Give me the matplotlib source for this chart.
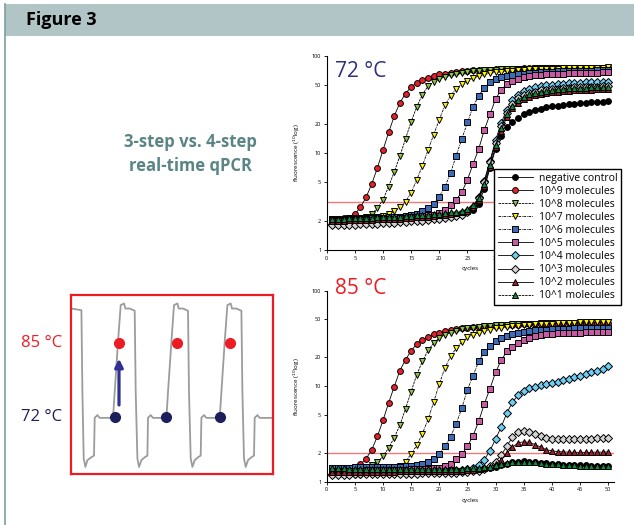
import numpy as np
import matplotlib
matplotlib.use('Agg')
import matplotlib.pyplot as plt
from matplotlib.ticker import FixedLocator, FixedFormatter
from matplotlib.patches import Rectangle
from matplotlib.lines import Line2D

plt.rcParams['font.family'] = ['Open Sans', 'DejaVu Sans']

# ---- data ----
cycles = list(range(1, 51))
series_labels = ['negative control', '10^9 molecules', '10^8 molecules', '10^7 molecules',
                 '10^6 molecules', '10^5 molecules', '10^4 molecules', '10^3 molecules',
                 '10^2 molecules', '10^1 molecules']

# 72 °C (3-step) fluorescence per cycle
neg_72 = [2.05, 2.05, 2.06, 2.07, 2.08, 2.09, 2.1, 2.1, 2.11, 2.12,
          2.13, 2.14, 2.15, 2.16, 2.17, 2.18, 2.2, 2.21, 2.23, 2.25,
          2.27, 2.3, 2.33, 2.38, 2.45, 2.6, 3.0, 4.3, 7.0, 11.0,
          15.0, 18.5, 21.0, 23.0, 25.0, 26.5, 27.7, 28.7, 29.5, 30.2,
          30.8, 31.3, 31.8, 32.2, 32.6, 33.0, 33.3, 33.6, 33.8, 34.0]
e9_72 = [2.1, 2.1, 2.12, 2.15, 2.35, 2.75, 3.5, 4.8, 7.0, 10.7,
         16.3, 24.0, 33.0, 41.0, 48.0, 53.0, 57.0, 60.0, 62.5, 64.5,
         66.0, 67.5, 68.5, 69.5, 70.3, 71.0, 71.5, 72.0, 72.5, 73.0,
         73.3, 73.6, 73.9, 74.2, 74.4, 74.6, 74.8, 75.0, 75.1, 75.2,
         75.3, 75.4, 75.5, 75.6, 75.7, 75.8, 75.8, 75.9, 75.9, 76.0]
e8_72 = [2.1, 2.1, 2.11, 2.12, 2.13, 2.15, 2.2, 2.35, 2.7, 3.3,
         4.5, 6.4, 9.3, 14.0, 21.0, 30.0, 40.0, 49.0, 54.0, 58.0,
         61.0, 63.5, 65.5, 67.0, 68.3, 69.3, 70.2, 71.0, 71.6, 72.1,
         72.6, 73.0, 73.4, 73.7, 74.0, 74.3, 74.5, 74.7, 74.9, 75.0,
         75.1, 75.2, 75.3, 75.4, 75.5, 75.6, 75.6, 75.7, 75.7, 75.8]
e7_72 = [2.1, 2.1, 2.11, 2.12, 2.13, 2.14, 2.15, 2.17, 2.2, 2.25,
         2.35, 2.5, 2.75, 3.15, 3.9, 5.3, 7.4, 10.7, 15.5, 22.0,
         31.0, 39.0, 46.0, 51.0, 55.5, 59.0, 62.0, 64.5, 66.3, 67.8,
         69.0, 70.0, 70.8, 71.5, 72.1, 72.6, 73.0, 73.4, 73.7, 74.0,
         74.3, 74.5, 74.8, 75.0, 75.2, 75.4, 75.6, 75.8, 76.0, 76.2]
e6_72 = [2.05, 2.05, 2.06, 2.07, 2.08, 2.09, 2.1, 2.12, 2.13, 2.15,
         2.17, 2.19, 2.21, 2.24, 2.28, 2.35, 2.5, 2.7, 3.0, 3.55,
         4.5, 6.2, 9.4, 13.9, 20.7, 30.0, 39.0, 47.0, 53.5, 57.5,
         60.5, 62.5, 64.0, 65.0, 66.0, 66.8, 67.5, 68.0, 68.5, 69.0,
         69.3, 69.6, 69.9, 70.2, 70.4, 70.6, 70.8, 71.0, 71.1, 71.2]
e5_72 = [2.0, 2.0, 2.01, 2.02, 2.03, 2.04, 2.05, 2.06, 2.07, 2.08,
         2.1, 2.11, 2.13, 2.15, 2.17, 2.2, 2.23, 2.27, 2.32, 2.4,
         2.6, 2.9, 3.3, 3.95, 5.3, 7.7, 11.0, 17.3, 25.0, 36.0,
         45.0, 51.0, 55.5, 58.5, 60.5, 62.0, 63.2, 64.0, 64.7, 65.2,
         65.6, 66.0, 66.3, 66.6, 66.9, 67.1, 67.3, 67.5, 67.7, 67.8]
e4_72 = [1.85, 1.86, 1.87, 1.88, 1.89, 1.9, 1.91, 1.92, 1.93, 1.95,
         1.96, 1.98, 2.0, 2.02, 2.04, 2.06, 2.08, 2.1, 2.13, 2.16,
         2.2, 2.24, 2.3, 2.38, 2.5, 2.8, 3.5, 5.2, 8.3, 13.5,
         20.5, 28.0, 35.0, 40.0, 43.5, 46.0, 47.8, 49.0, 50.0, 50.8,
         51.4, 52.0, 52.5, 52.9, 53.2, 53.5, 53.8, 54.0, 54.2, 54.4]
e3_72 = [1.8, 1.8, 1.81, 1.82, 1.83, 1.84, 1.85, 1.86, 1.87, 1.88,
         1.9, 1.91, 1.93, 1.95, 1.97, 1.99, 2.01, 2.04, 2.07, 2.1,
         2.14, 2.18, 2.24, 2.32, 2.45, 2.75, 3.4, 5.0, 8.0, 12.8,
         19.0, 26.0, 32.0, 36.5, 39.5, 41.5, 43.0, 44.2, 45.0, 45.7,
         46.2, 46.7, 47.1, 47.4, 47.7, 48.0, 48.2, 48.4, 48.6, 48.8]
e2_72 = [2.0, 2.0, 2.01, 2.02, 2.03, 2.04, 2.05, 2.06, 2.07, 2.08,
         2.09, 2.1, 2.11, 2.13, 2.15, 2.17, 2.19, 2.21, 2.24, 2.27,
         2.3, 2.34, 2.38, 2.44, 2.55, 2.8, 3.3, 4.6, 7.2, 11.5,
         17.0, 23.5, 29.0, 33.0, 36.0, 38.0, 39.5, 40.7, 41.6, 42.3,
         42.9, 43.4, 43.8, 44.2, 44.5, 44.8, 45.0, 45.2, 45.4, 45.6]
e1_72 = [2.1, 2.1, 2.11, 2.12, 2.13, 2.14, 2.15, 2.16, 2.17, 2.18,
         2.19, 2.2, 2.21, 2.23, 2.25, 2.27, 2.29, 2.31, 2.34, 2.37,
         2.4, 2.44, 2.48, 2.53, 2.63, 2.9, 3.4, 4.8, 7.6, 12.2,
         18.0, 25.0, 30.5, 35.0, 38.0, 40.2, 41.8, 43.0, 44.0, 44.8,
         45.4, 45.9, 46.3, 46.7, 47.0, 47.3, 47.6, 47.8, 48.0, 48.2]

# 85 °C (4-step) fluorescence per cycle
neg_85 = [1.28, 1.28, 1.28, 1.28, 1.28, 1.28, 1.28, 1.29, 1.29, 1.29,
          1.29, 1.29, 1.3, 1.3, 1.3, 1.3, 1.3, 1.31, 1.31, 1.31,
          1.31, 1.32, 1.32, 1.32, 1.33, 1.34, 1.35, 1.37, 1.4, 1.44,
          1.5, 1.55, 1.59, 1.62, 1.63, 1.62, 1.6, 1.58, 1.56, 1.54,
          1.53, 1.51, 1.5, 1.49, 1.48, 1.48, 1.47, 1.47, 1.47, 1.47]
e9_85 = [1.35, 1.35, 1.36, 1.37, 1.42, 1.53, 1.74, 2.16, 2.98, 4.38,
         6.7, 9.9, 14.6, 18.9, 23.5, 27.7, 30.7, 33.0, 35.0, 36.5,
         37.8, 38.8, 39.6, 40.3, 40.9, 41.4, 41.9, 42.3, 42.7, 43.0,
         43.3, 43.6, 43.9, 44.1, 44.3, 44.5, 44.7, 44.9, 45.0, 45.2,
         45.3, 45.4, 45.5, 45.6, 45.7, 45.8, 45.9, 46.0, 46.1, 46.2]
e8_85 = [1.38, 1.38, 1.39, 1.39, 1.4, 1.41, 1.43, 1.48, 1.59, 1.85,
         2.25, 2.9, 3.9, 5.8, 8.8, 13.2, 18.2, 23.7, 28.3, 32.0,
         34.5, 36.5, 38.0, 39.3, 40.3, 41.1, 41.8, 42.4, 42.9, 43.3,
         43.7, 44.0, 44.3, 44.6, 44.8, 45.0, 45.2, 45.4, 45.6, 45.7,
         45.8, 46.0, 46.1, 46.2, 46.3, 46.4, 46.5, 46.6, 46.7, 46.8]
e7_85 = [1.36, 1.36, 1.37, 1.37, 1.37, 1.38, 1.38, 1.38, 1.39, 1.39,
         1.4, 1.42, 1.47, 1.62, 1.96, 2.4, 3.18, 4.5, 6.8, 10.6,
         15.5, 20.5, 25.0, 29.0, 32.6, 34.7, 36.5, 38.0, 39.2, 40.2,
         41.0, 41.8, 42.4, 43.0, 43.5, 43.9, 44.3, 44.7, 45.0, 45.3,
         45.6, 45.9, 46.1, 46.3, 46.5, 46.7, 46.9, 47.1, 47.3, 47.5]
e6_85 = [1.4, 1.4, 1.4, 1.4, 1.41, 1.41, 1.41, 1.42, 1.42, 1.42,
         1.43, 1.43, 1.44, 1.45, 1.47, 1.5, 1.55, 1.62, 1.74, 1.96,
         2.34, 2.94, 4.05, 5.9, 9.2, 12.9, 18.2, 22.8, 26.1, 29.5,
         31.9, 33.8, 35.3, 36.4, 37.2, 37.9, 38.4, 38.8, 39.1, 39.4,
         39.6, 39.8, 40.0, 40.2, 40.3, 40.4, 40.5, 40.6, 40.7, 40.8]
e5_85 = [1.3, 1.3, 1.3, 1.31, 1.31, 1.31, 1.32, 1.32, 1.32, 1.33,
         1.33, 1.33, 1.34, 1.34, 1.35, 1.35, 1.36, 1.37, 1.38, 1.4,
         1.45, 1.55, 1.72, 1.95, 2.34, 3.03, 4.28, 6.55, 9.4, 14.0,
         18.7, 23.1, 26.0, 28.5, 30.5, 32.0, 33.2, 34.1, 34.8, 35.3,
         35.7, 36.0, 36.2, 36.4, 36.5, 36.6, 36.7, 36.8, 36.9, 37.0]
e4_85 = [1.2, 1.2, 1.2, 1.21, 1.21, 1.21, 1.22, 1.22, 1.22, 1.23,
         1.23, 1.23, 1.24, 1.24, 1.24, 1.25, 1.25, 1.26, 1.26, 1.27,
         1.28, 1.29, 1.3, 1.32, 1.35, 1.4, 1.5, 1.7, 2.11, 2.8,
         3.74, 5.24, 6.8, 8.1, 9.0, 9.5, 9.9, 10.2, 10.5, 10.8,
         11.1, 11.5, 11.9, 12.4, 12.9, 13.4, 14.0, 14.6, 15.3, 16.2]
e3_85 = [1.18, 1.18, 1.18, 1.18, 1.19, 1.19, 1.19, 1.19, 1.2, 1.2,
         1.2, 1.2, 1.21, 1.21, 1.21, 1.21, 1.22, 1.22, 1.22, 1.23,
         1.23, 1.24, 1.24, 1.25, 1.26, 1.28, 1.31, 1.36, 1.45, 1.62,
         1.9, 2.35, 2.94, 3.3, 3.42, 3.35, 3.15, 3.0, 2.9, 2.83,
         2.8, 2.78, 2.77, 2.77, 2.78, 2.8, 2.82, 2.85, 2.88, 2.9]
e2_85 = [1.25, 1.25, 1.25, 1.25, 1.26, 1.26, 1.26, 1.26, 1.27, 1.27,
         1.27, 1.27, 1.28, 1.28, 1.28, 1.28, 1.29, 1.29, 1.29, 1.3,
         1.3, 1.3, 1.31, 1.31, 1.32, 1.33, 1.35, 1.38, 1.43, 1.52,
         1.7, 1.98, 2.3, 2.55, 2.62, 2.58, 2.45, 2.3, 2.17, 2.1,
         2.07, 2.05, 2.04, 2.03, 2.03, 2.03, 2.03, 2.04, 2.04, 2.05]
e1_85 = [1.38, 1.38, 1.38, 1.37, 1.37, 1.37, 1.37, 1.37, 1.37, 1.37,
         1.37, 1.37, 1.37, 1.37, 1.37, 1.37, 1.37, 1.37, 1.37, 1.37,
         1.37, 1.37, 1.37, 1.37, 1.38, 1.38, 1.39, 1.41, 1.44, 1.48,
         1.53, 1.57, 1.6, 1.62, 1.62, 1.61, 1.59, 1.57, 1.55, 1.53,
         1.52, 1.5, 1.49, 1.48, 1.47, 1.47, 1.46, 1.46, 1.46, 1.46]

threshold_72 = 3.1
threshold_85 = 2.0

# temperature profile of the cycler (inset), seconds / °C
profile_time = [0.7, 10.7, 11.7, 13.0, 14.7, 16.7, 21.3, 23.3, 24.0, 26.7, 29.0, 42.3,
                44.0, 47.3, 50.0, 53.3, 54.7, 59.0, 64.0, 65.0, 66.7, 68.3, 70.7, 74.7,
                76.7, 77.3, 80.0, 82.3, 95.7, 97.3, 100.7, 103.3, 106.7, 108.0, 112.3,
                117.3, 118.3, 120.0, 121.7, 124.0, 128.0, 130.0, 130.7, 133.3, 135.7,
                149.0, 150.7, 154.0, 156.7, 160.0, 161.3, 165.7, 170.7, 171.7, 173.3,
                175.0, 177.3, 181.3, 183.3, 184.0, 186.7, 189.0, 200.7]
profile_temp = [91.2, 90.9, 76.4, 64.6, 63.1, 64.3, 64.9, 65.1, 71.8, 72.3, 71.8, 71.8,
                76.4, 85.3, 91.8, 92.1, 91.2, 91.2, 90.8, 76.4, 64.6, 63.1, 64.3, 64.9,
                65.1, 71.8, 72.3, 71.8, 71.8, 76.4, 85.3, 91.8, 92.1, 91.2, 91.2,
                90.8, 76.4, 64.6, 63.1, 64.3, 64.9, 65.1, 71.8, 72.3, 71.8,
                71.8, 76.4, 85.3, 91.8, 92.1, 91.2, 91.2, 90.8, 76.4, 64.6,
                63.1, 64.3, 64.9, 65.1, 71.8, 72.3, 71.8, 71.8]
read85_time = [48.3, 106.3, 159.7]
read85_temp = [85.0, 85.0, 85.0]
read72_time = [44.0, 95.7, 149.0]
read72_temp = [71.9, 71.9, 71.9]

data_72 = [neg_72, e9_72, e8_72, e7_72, e6_72, e5_72, e4_72, e3_72, e2_72, e1_72]
data_85 = [neg_85, e9_85, e8_85, e7_85, e6_85, e5_85, e4_85, e3_85, e2_85, e1_85]

# marker, face colour, line style
styles = [('o', 'black', '-'),
          ('o', '#e8202a', '-'),
          ('v', '#8dc63f', (0, (3, 1))),
          ('v', '#fff200', (0, (3, 1, 1, 1))),
          ('s', '#3b6cb7', (0, (3, 1, 1, 1))),
          ('s', '#c85aa4', '-'),
          ('D', '#6dcff6', '-'),
          ('D', '#d4d4d4', '-'),
          ('^', '#a31c2f', '-'),
          ('^', '#108a3f', (0, (3, 1)))]

W, H = 634, 525
fig = plt.figure(figsize=(W / 100, H / 100), dpi=100)

# header band and frame line
fig.patches.append(Rectangle((5 / W, 1 - 36 / H), 629 / W, 32 / H, transform=fig.transFigure,
                             facecolor='#b1c4c6', edgecolor='none'))
fig.add_artist(Line2D([5 / W, 5 / W], [0, 1 - 4 / H], color='#7d9e9e', lw=1.2))
fig.text(26 / W, 1 - 20 / H, 'Figure 3', fontsize=13, fontweight='bold', va='center')

fig.text(190 / W, 1 - 154 / H, '3-step vs. 4-step\nreal-time qPCR', ha='center', va='center',
         fontsize=12, fontweight='bold', color='#5b8585', linespacing=1.45)


def draw_chart(ax, data, threshold, title, title_color, title_y, hide_xlabels=()):
    for values, label, (mk, fc, ls) in zip(data, series_labels, styles):
        ax.plot(cycles, values, color='black', lw=0.6, linestyle=ls, marker=mk,
                markerfacecolor=fc, markeredgecolor='black', markeredgewidth=0.7,
                markersize=4.2, label=label)
    ax.axhline(threshold, color='#f07a7a', lw=1.0, zorder=1)
    ax.set_yscale('log')
    ax.set_ylim(1, 100)
    ax.set_xlim(0, 51)
    ax.yaxis.set_major_locator(FixedLocator([1, 2, 5, 10, 20, 50, 100]))
    ax.yaxis.set_major_formatter(FixedFormatter(['1', '2', '5', '10', '20', '50', '100']))
    ax.yaxis.set_minor_locator(FixedLocator([]))
    xt = list(range(0, 51, 5))
    ax.set_xticks(xt)
    ax.set_xticklabels(['' if v in hide_xlabels else str(v) for v in xt])
    ax.tick_params(labelsize=4, length=2, width=0.6, pad=2)
    for s in ['top', 'right']:
        ax.spines[s].set_visible(False)
    for s in ['left', 'bottom']:
        ax.spines[s].set_linewidth(0.8)
    ax.set_xlabel('cycles', fontsize=4.5)
    ax.set_ylabel('fluorescence ($^{10}$log)', fontsize=4.5)
    ax.xaxis.set_label_coords(0.5, -0.085)
    ax.yaxis.set_label_coords(-0.087, 0.5)
    ax.text(0.029, title_y, title, transform=ax.transAxes, fontsize=15, color=title_color,
            va='center', ha='left')


ax1 = fig.add_axes([326.7 / W, 1 - 250 / H, 287.1 / W, 194 / H])
ax2 = fig.add_axes([326.7 / W, 1 - 481.7 / H, 287.1 / W, 191 / H])
# the legend covers the last tick labels of the upper chart
draw_chart(ax1, data_72, threshold_72, '72 °C', '#2e3180', 0.918, hide_xlabels=(35, 40, 45, 50))
draw_chart(ax2, data_85, threshold_85, '85 °C', '#ed1c24', 1.01)

handles, labels = ax1.get_legend_handles_labels()
fig.legend(handles, labels, loc='upper left', bbox_to_anchor=(494 / W, 1 - 169 / H),
           fontsize=7.5, frameon=True, fancybox=False, edgecolor='black', framealpha=1,
           borderaxespad=0, borderpad=0.35, handlelength=3.4, handletextpad=0.55,
           labelspacing=0.2)

# temperature profile inset
axp = fig.add_axes([70.7 / W, 1 - 473.7 / H, 202.3 / W, 178.7 / H])
axp.plot(profile_time, profile_temp, color='#9c9c9c', lw=1.3)
axp.plot(read85_time, read85_temp, 'o', color='#ed1c24', markersize=7, zorder=3)
axp.plot(read72_time, read72_temp, 'o', color='#1d1f5c', markersize=7, zorder=3)
axp.annotate('', xy=(read85_time[0], 82.8), xytext=(read85_time[0], 73.6),
             arrowprops=dict(arrowstyle='-|>', color='#2e3192', lw=2.3, mutation_scale=12))
axp.set_xlim(0, 202.3)
axp.set_ylim(61.9, 93.6)
axp.set_xticks([])
axp.set_yticks([])
for s in axp.spines.values():
    s.set_color('#ed1c24')
    s.set_linewidth(1.6)

fig.text(62 / W, 1 - 343 / H, '85 °C', color='#ed1c24', fontsize=12, ha='right', va='center')
fig.text(62 / W, 1 - 417 / H, '72 °C', color='#1d1f5c', fontsize=12, ha='right', va='center')

fig.savefig('out.png', dpi=100)
